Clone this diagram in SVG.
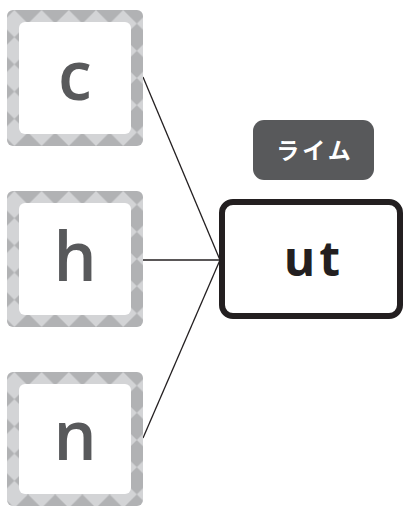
<svg xmlns="http://www.w3.org/2000/svg" width="406" height="507" viewBox="0 0 406 507">
  <defs>
    <pattern id="diam" patternUnits="userSpaceOnUse" width="27.2" height="27.2" patternTransform="translate(7.4,-13.6)">
      <rect width="27.2" height="27.2" fill="#d3d4d6"/>
      <polygon points="13.6,0 27.2,13.6 13.6,27.2 0,13.6" fill="#b1b2b4"/>
    </pattern>
    <style>
      .outer { fill: url(#diam); }
      .inner { fill: #ffffff; }
      .letter { font-family: "Open Sans", "Liberation Sans", sans-serif; font-weight: 600; font-size: 68px; fill: #58595b; text-anchor: middle; }
      .conn { stroke: #231f20; stroke-width: 1.3; fill: none; }
      .target { fill: #ffffff; stroke: #231f20; stroke-width: 6; }
      .ttext { font-family: "Open Sans", "Liberation Sans", sans-serif; font-weight: 700; font-size: 48px; fill: #231f20; text-anchor: middle; letter-spacing: 4px; }
      .tag { fill: #58595b; }
      .tagtext { font-family: "Noto Sans CJK JP", "Noto Sans", sans-serif; font-weight: 700; font-size: 23px; fill: #ffffff; text-anchor: middle; letter-spacing: 3px; }
    </style>
  </defs>

  <g id="connectors">
    <line class="conn" x1="143" y1="77" x2="220" y2="260"/>
    <line class="conn" x1="143" y1="260" x2="220" y2="260"/>
    <line class="conn" x1="143" y1="438" x2="220" y2="260"/>
  </g>

  <g id="node-c" transform="translate(7,10)">
    <rect class="outer" x="0" y="0" width="136" height="136" rx="6"/>
    <rect class="inner" x="12" y="12" width="112" height="112" rx="6"/>
    <text class="letter" x="68" y="90">c</text>
  </g>

  <g id="node-h" transform="translate(7,191)">
    <rect class="outer" x="0" y="0" width="136" height="136" rx="6"/>
    <rect class="inner" x="12" y="12" width="112" height="112" rx="6"/>
    <text class="letter" x="68" y="90">h</text>
  </g>

  <g id="node-n" transform="translate(7,372)">
    <rect class="outer" x="0" y="0" width="136" height="134" rx="6"/>
    <rect class="inner" x="12" y="12" width="112" height="110" rx="6"/>
    <text class="letter" x="68" y="88">n</text>
  </g>

  <g id="label-rime">
    <rect class="tag" x="253" y="120" width="121" height="60" rx="11"/>
    <text class="tagtext" x="315" y="159">ライム</text>
  </g>

  <g id="node-ut">
    <rect class="target" x="222" y="202" width="178" height="114" rx="11"/>
    <text class="ttext" x="314" y="276">ut</text>
  </g>
</svg>
